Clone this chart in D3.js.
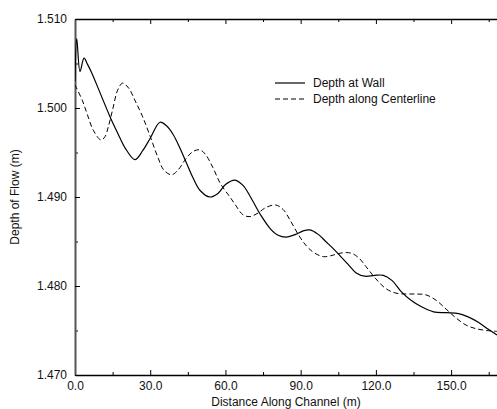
<!DOCTYPE html>
<html>
<head>
<meta charset="utf-8">
<script src="https://cdnjs.cloudflare.com/ajax/libs/d3/7.8.5/d3.min.js"></script>
<style>
  body { margin: 0; background: #fff; }
  svg { display: block; font-family: "Liberation Sans", Arial, sans-serif; }
  .tick text { font-size: 12px; fill: #111; }
</style>
</head>
<body>
<script>
// distances along the channel (m) and depths (m)
const wallDist  = [0, 0.7, 2.0, 3.6, 5, 6.6, 10, 14, 17, 20, 23.9, 27, 30, 33.9, 36.5, 39.2, 42, 44.5, 47, 50, 53.8, 57, 60, 63.8, 67, 70, 74, 78, 81, 84.4, 88, 91, 93.7, 97, 100, 103, 106, 109, 112, 115.6, 119.5, 123, 126.5, 130, 134, 138, 143, 148, 153, 157, 161, 165, 168.3];
const wallDepth = [1.5030, 1.5078, 1.5041, 1.5056, 1.5049, 1.5040, 1.5017, 1.4990, 1.4972, 1.4955, 1.4942, 1.4952, 1.4966, 1.4984, 1.4980, 1.4970, 1.4954, 1.4938, 1.4922, 1.4907, 1.4900, 1.4904, 1.4914, 1.4919, 1.4913, 1.4900, 1.4880, 1.4864, 1.4857, 1.4855, 1.4858, 1.4862, 1.4863, 1.4858, 1.4850, 1.4842, 1.4833, 1.4824, 1.4815, 1.4811, 1.4812, 1.4812, 1.4806, 1.4794, 1.4784, 1.4777, 1.4771, 1.4770, 1.4769, 1.4765, 1.4759, 1.4751, 1.4745];

const centerDist  = [0, 3, 5, 7.3, 10.4, 12, 13.3, 15, 17, 19, 21.5, 24, 27, 30, 33, 35.5, 38.5, 41, 44, 47, 49.8, 52, 55, 58, 61.8, 64, 67, 69.8, 73, 76, 80, 83, 86, 89, 92, 95, 99, 102, 106, 110, 113, 116, 120, 124, 128, 132, 136, 140, 144, 148, 152, 156, 160, 164.2, 168.3];
const centerDepth = [1.5026, 1.5008, 1.4992, 1.4975, 1.4964, 1.4968, 1.4979, 1.4998, 1.5020, 1.5028, 1.5022, 1.5008, 1.4990, 1.4968, 1.4945, 1.4930, 1.4925, 1.4930, 1.4942, 1.4951, 1.4953, 1.4948, 1.4933, 1.4915, 1.4900, 1.4891, 1.4880, 1.4878, 1.4882, 1.4888, 1.4891, 1.4886, 1.4873, 1.4858, 1.4846, 1.4838, 1.4833, 1.4834, 1.4837, 1.4837, 1.4832, 1.4822, 1.4808, 1.4797, 1.4792, 1.4791, 1.4791, 1.4790, 1.4784, 1.4774, 1.4764, 1.4756, 1.4752, 1.4750, 1.4749];

const xTicks = [0, 30, 60, 90, 120, 150];
const xMinor = [15, 45, 75, 105, 135, 165];
const yTicks = [1.470, 1.480, 1.490, 1.500, 1.510];
const yMinor = [1.475, 1.485, 1.495, 1.505];
const seriesNames = ["Depth at Wall", "Depth along Centerline"];

const width = 497, height = 409;
const margin = {left: 75, right: 0, top: 19, bottom: 34};

const x = d3.scaleLinear().domain([0, 168.3]).range([margin.left, width - margin.right]);
const y = d3.scaleLinear().domain([1.470, 1.510]).range([height - margin.bottom, margin.top]);

const svg = d3.select('body').append('svg')
              .attr("width", width).attr("height", height);

svg.append("defs").append("clipPath").attr("id", "clip")
   .append("rect")
   .attr("x", margin.left).attr("y", margin.top)
   .attr("width", width - margin.left - margin.right)
   .attr("height", height - margin.top - margin.bottom);

// minor ticks first
svg.append("g").attr("transform", "translate(0," + y(1.470) + ")")
   .call(d3.axisBottom(x).tickValues(xMinor).tickSize(-3).tickFormat(""))
   .call(g => g.select(".domain").remove());
svg.append("g").attr("transform", "translate(0," + y(1.510) + ")")
   .call(d3.axisTop(x).tickValues(xMinor).tickSize(-3).tickFormat(""))
   .call(g => g.select(".domain").remove());
svg.append("g").attr("transform", "translate(" + margin.left + ",0)")
   .call(d3.axisLeft(y).tickValues(yMinor).tickSize(-3).tickFormat(""))
   .call(g => g.select(".domain").remove());

// major axes
const xAxis = svg.append("g").attr("transform", "translate(0," + y(1.470) + ")")
   .call(d3.axisBottom(x).tickValues(xTicks).tickSizeInner(-5).tickSizeOuter(0)
          .tickPadding(6).tickFormat(d3.format(".1f")));
xAxis.select(".domain").attr("stroke-width", 1.4);

const topAxis = svg.append("g").attr("transform", "translate(0," + y(1.510) + ")")
   .call(d3.axisTop(x).tickValues(xTicks).tickSizeInner(-5).tickSizeOuter(0).tickFormat(""));
topAxis.select(".domain").attr("stroke-width", 1.4);

const yAxis = svg.append("g").attr("transform", "translate(" + margin.left + ",0)")
   .call(d3.axisLeft(y).tickValues(yTicks).tickSizeInner(-5).tickSizeOuter(0)
          .tickPadding(8).tickFormat(d3.format(".3f")));
yAxis.select(".domain").attr("stroke", "#555").attr("stroke-width", 2);

// lines
const line = d3.line().curve(d3.curveCatmullRom.alpha(0.5))
               .x(d => x(d[0])).y(d => y(d[1]));

const wall = wallDist.map((d, i) => [d, wallDepth[i]]);
const center = centerDist.map((d, i) => [d, centerDepth[i]]);

const plot = svg.append("g").attr("clip-path", "url(#clip)");
plot.append("path").datum(wall)
    .attr("d", line).attr("fill", "none")
    .attr("stroke", "#000").attr("stroke-width", 1.2);
plot.append("path").datum(center)
    .attr("d", line).attr("fill", "none")
    .attr("stroke", "#000").attr("stroke-width", 1).attr("stroke-dasharray", "5,3");

// legend
const legend = svg.append("g").attr("transform", "translate(275,83)");
seriesNames.forEach((name, i) => {
  const row = legend.append("g").attr("transform", "translate(0," + (i * 16) + ")");
  row.append("line").attr("x1", 0).attr("x2", 30).attr("y1", 0).attr("y2", 0)
     .attr("stroke", "#000").attr("stroke-width", i ? 1 : 1.2)
     .attr("stroke-dasharray", i ? "5,3" : null);
  row.append("text").attr("x", 38).attr("y", 4)
     .attr("font-size", 12).attr("fill", "#111").text(name);
});

// axis labels
svg.append("text")
   .attr("x", (margin.left + width) / 2).attr("y", 406)
   .attr("text-anchor", "middle").attr("font-size", 12).attr("fill", "#111")
   .text("Distance Along Channel (m)");

svg.append("text")
   .attr("transform", "translate(19," + ((margin.top + height - margin.bottom) / 2) + ") rotate(-90)")
   .attr("text-anchor", "middle").attr("font-size", 12).attr("fill", "#111")
   .text("Depth of Flow (m)");
</script>
</body>
</html>
